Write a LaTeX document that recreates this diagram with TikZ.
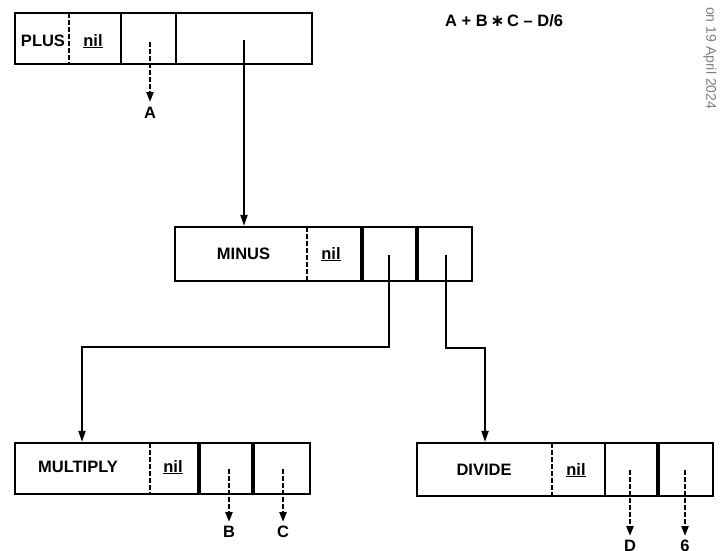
\documentclass[tikz,border=0pt]{standalone}
\usepackage{fontspec}
\setmainfont{Liberation Sans}
\newfontfamily\symfont{DejaVu Sans}
\usetikzlibrary{arrows.meta}
\tikzset{
  recbox/.style={draw, line width=2.3pt, inner sep=0pt, rectangle},
  lbl/.style={font=\fontsize{16.5}{19}\selectfont\bfseries, inner sep=0pt},
  dashdiv/.style={line width=2.3pt, dash pattern=on 4.5pt off 2.5pt},
  soliddiv/.style={line width=2.5pt},
  thickdiv/.style={line width=3.6pt},
  link/.style={line width=2pt, -{Triangle[length=11pt,width=7pt]}},
  ptr/.style={line width=2.3pt, dash pattern=on 4.5pt off 2.5pt, -{Triangle[length=10pt,width=7pt]}},
}
\begin{document}
\begin{tikzpicture}[x=1pt,y=-1pt]
\useasboundingbox (0,0) rectangle (720,550);
\fill[white] (0,0) rectangle (720,550);

% ---------- PLUS record ----------
\node[recbox, minimum width=297pt, minimum height=51pt] (plus) at (163.5,38.5) {};
\draw[dashdiv] (69,13) -- (69,64);
\draw[soliddiv] (121,13) -- (121,64);
\draw[soliddiv] (176,13) -- (176,64);
\node[lbl, anchor=base] (plusname) at (43,46) {PLUS};
\node[lbl, anchor=base] (plusnil) at (93,46) {\underline{nil}};
\coordinate (pa) at (150,42);
\node[lbl, anchor=north] (la) at (150,107) {A};
\draw[ptr, shorten >=5pt] (pa) -- (la.north);
\coordinate (p4) at (244,40);

% ---------- MINUS record ----------
\node[recbox, minimum width=297pt, minimum height=54pt] (minus) at (323.5,254) {};
\draw[dashdiv] (307,227) -- (307,281);
\draw[thickdiv] (362,227) -- (362,281);
\draw[thickdiv] (417,227) -- (417,281);
\node[lbl, anchor=base] (minusname) at (243.5,259) {MINUS};
\node[lbl, anchor=base] (minusnil) at (331,259) {\underline{nil}};
\coordinate (m3) at (389,255);
\coordinate (m4) at (446,255);
\draw[link] (p4) -- (p4 |- minus.north);

% ---------- MULTIPLY record ----------
\node[recbox, minimum width=295pt, minimum height=51pt] (mult) at (162.5,468.5) {};
\draw[dashdiv] (150,443) -- (150,494);
\draw[thickdiv] (199,443) -- (199,494);
\draw[thickdiv] (253,443) -- (253,494);
\node[lbl, anchor=base] (multname) at (78,472) {MULTIPLY};
\node[lbl, anchor=base] (multnil) at (173,472) {\underline{nil}};
\coordinate (mb) at (229,469);
\coordinate (mc) at (283,469);
\node[lbl, anchor=north] (lb) at (229,526) {B};
\node[lbl, anchor=north] (lc) at (283,526) {C};
\draw[ptr, shorten >=4pt] (mb) -- (lb.north);
\draw[ptr, shorten >=4pt] (mc) -- (lc.north);

% ---------- DIVIDE record ----------
\node[recbox, minimum width=296pt, minimum height=53pt] (div) at (565,469.5) {};
\draw[dashdiv] (552,443) -- (552,496);
\draw[soliddiv] (605,443) -- (605,496);
\draw[thickdiv] (658,443) -- (658,496);
\node[lbl, anchor=base] (divname) at (484,475) {DIVIDE};
\node[lbl, anchor=base] (divnil) at (576,475) {\underline{nil}};
\coordinate (dd) at (630,470);
\coordinate (d6) at (685,470);
\node[lbl, anchor=north] (ld) at (630,540) {D};
\node[lbl, anchor=north] (l6) at (685,540) {6};
\draw[ptr, shorten >=4pt] (dd) -- (ld.north);
\draw[ptr, shorten >=4pt] (d6) -- (l6.north);

% ---------- links from MINUS ----------
\coordinate (xm) at (82,0);
\coordinate (xd) at (485,0);
\draw[link] (m3) -- (389,347) -- (82,347) -- (mult.north -| xm);
\draw[link] (m4) -- (446,348) -- (485,348) -- (div.north -| xd);

% ---------- formula and margin note ----------
\node[lbl, anchor=base west] (formula) at (445,26) {A + B\,{\symfont\bfseries ∗}\,C – D/6};
\node[font=\fontsize{14}{16}\selectfont, text=black!50, rotate=-90, anchor=west, inner sep=0pt] (wm) at (710,7) {on 19 April 2024};
\end{tikzpicture}
\end{document}
